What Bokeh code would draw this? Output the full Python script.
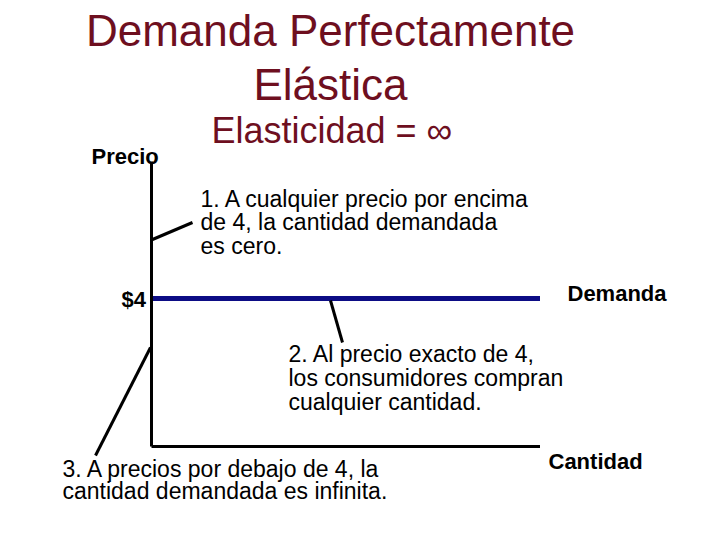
from bokeh.plotting import figure
from bokeh.models import Range1d
from bokeh.embed import file_html
from bokeh.resources import INLINE
from bokeh.core.properties import value

# ---- data ----
demand_price = [4, 4]          # perfectly elastic demand at $4
demand_quantity = [0, 10.5]
axis_price_max = 7.7
axis_quantity_max = 10.5

title_lines = ["Demanda Perfectamente", "Elástica"]
subtitle = "Elasticidad = \u221e"
note1 = ["1. A cualquier precio por encima", "de 4, la cantidad demandada", "es cero."]
note2 = ["2. Al precio exacto de 4,", "los consumidores compran", "cualquier cantidad."]
note3 = ["3. A precios por debajo de 4, la", "cantidad demandada es infinita."]
y_label = "Precio"
x_label = "Cantidad"
price_label = "$4"
curve_label = "Demanda"

# ---- layout helpers (picture pixels -> data units) ----
W, H = 704, 524
PX = 37.0
OX, OY = 151, 446   # origin in pixels
BASE = 0.37         # baseline correction (fraction of font size)


def dx(x):
    return (x - OX) / PX


def dy(y):
    return (OY - y) / PX


def ty(y, size):
    return dy(y - BASE * size)


p = figure(width=W, height=H, output_backend="svg", toolbar_location=None,
           x_range=Range1d(-OX / PX, (W - OX) / PX),
           y_range=Range1d(-(H - OY) / PX, OY / PX),
           min_border=0)
p.axis.visible = False
p.grid.visible = False
p.outline_line_color = None
p.background_fill_color = "white"

FONT = value("Liberation Sans")
RED = "#6e0f1f"

# titles
p.text(x=[dx(330)], y=[ty(46, 44)], text=[title_lines[0]], text_font=FONT,
       text_font_size="44px", text_color=RED, text_align="center", text_baseline="alphabetic")
p.text(x=[dx(330)], y=[ty(100, 44)], text=[title_lines[1]], text_font=FONT,
       text_font_size="44px", text_color=RED, text_align="center", text_baseline="alphabetic")
p.text(x=[dx(211)], y=[ty(143, 36)], text=[subtitle], text_font=FONT,
       text_font_size="36px", text_color=RED, text_align="left", text_baseline="alphabetic")

# notes
def lines(txts, x, y0, step, size=23):
    p.text(x=[dx(x)] * len(txts), y=[ty(y0 + i * step, size) for i in range(len(txts))],
           text=txts, text_font=FONT, text_font_size=f"{size}px", text_color="black",
           text_align="left", text_baseline="alphabetic")

lines(note1, 200, 207, 23.5)
lines(note2, 288, 362, 24)
lines(note3, 62, 477, 22)

# bold labels
for t, x, y in [(y_label, 91, 164), (price_label, 121, 307), (curve_label, 567, 301), (x_label, 548, 469)]:
    p.text(x=[dx(x)], y=[ty(y, 22)], text=[t], text_font=FONT, text_font_size="22px",
           text_font_style="bold", text_color="black", text_align="left", text_baseline="alphabetic")

# demand curve
p.line(demand_quantity, demand_price, line_color="#0c0c85", line_width=5)

# axes
p.line([0, 0], [0, axis_price_max], line_color="black", line_width=3)
p.line([0, axis_quantity_max], [0, 0], line_color="black", line_width=3)

# pointer lines
p.segment(x0=[dx(152), dx(330), dx(150)], y0=[dy(239), dy(300), dy(347)],
          x1=[dx(192), dx(342), dx(95)], y1=[dy(222), dy(342), dy(455)],
          line_color="black", line_width=3)

open("out.html", "w").write(file_html(p, INLINE))
